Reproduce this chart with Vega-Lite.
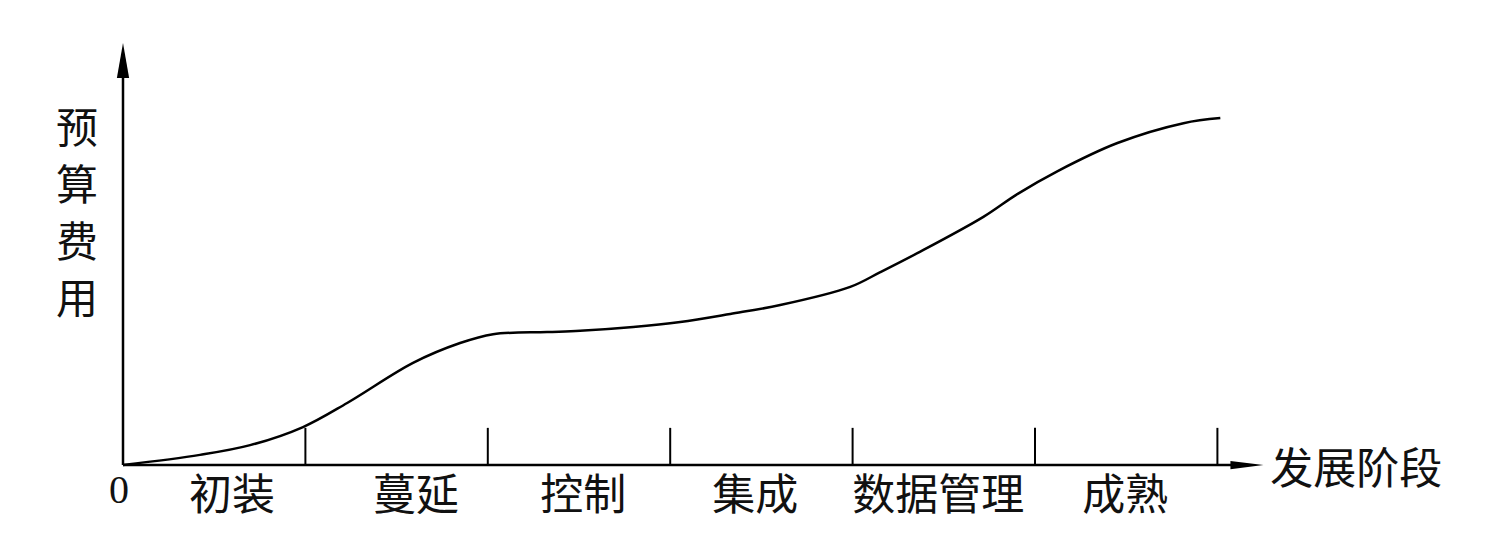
{
  "$schema": "https://vega.github.io/schema/vega-lite/v6.json",
  "width": 1140,
  "height": 422,
  "autosize": {"type": "none"},
  "padding": {"left": 123, "top": 43, "right": 233, "bottom": 81},
  "background": "white",
  "config": {"view": {"stroke": null}},
  "datasets": {
    "curve": [
      {"stage": 0, "cost": 0},
      {"stage": 0.422, "cost": 2.4},
      {"stage": 0.697, "cost": 4.7},
      {"stage": 0.987, "cost": 9.0},
      {"stage": 1.229, "cost": 14.7},
      {"stage": 1.59, "cost": 24.2},
      {"stage": 1.848, "cost": 28.9},
      {"stage": 2.029, "cost": 31.0},
      {"stage": 2.325, "cost": 31.5},
      {"stage": 2.506, "cost": 31.8},
      {"stage": 2.797, "cost": 32.7},
      {"stage": 3.055, "cost": 33.9},
      {"stage": 3.329, "cost": 35.8},
      {"stage": 3.603, "cost": 37.9},
      {"stage": 3.987, "cost": 42.2},
      {"stage": 4.152, "cost": 45.7},
      {"stage": 4.355, "cost": 50.2},
      {"stage": 4.717, "cost": 58.8},
      {"stage": 4.903, "cost": 64.2},
      {"stage": 5.122, "cost": 69.6},
      {"stage": 5.452, "cost": 76.3},
      {"stage": 5.814, "cost": 81.0},
      {"stage": 6.016, "cost": 82.2}
    ],
    "boundaries": [
      {"stage": 1}, {"stage": 2}, {"stage": 3}, {"stage": 4}, {"stage": 5}, {"stage": 6}
    ],
    "stages": [
      {"name": "初装", "stage": 0.598},
      {"name": "蔓延", "stage": 1.607},
      {"name": "控制", "stage": 2.523},
      {"name": "集成", "stage": 3.466},
      {"name": "数据管理", "stage": 4.47},
      {"name": "成熟", "stage": 5.495}
    ]
  },
  "layer": [
    {
      "data": {"values": [{"stage": 0, "stage2": 6.1, "cost": 0}]},
      "mark": {"type": "rule", "color": "black", "strokeWidth": 2.5},
      "encoding": {
        "x": {"field": "stage", "type": "quantitative", "scale": {"domain": [0, 6.25], "nice": false, "zero": false}, "axis": null},
        "x2": {"field": "stage2"},
        "y": {"field": "cost", "type": "quantitative", "scale": {"domain": [0, 100], "nice": false, "zero": false}, "axis": null}
      }
    },
    {
      "data": {"values": [{"stage": 0, "cost": 0, "cost2": 92}]},
      "mark": {"type": "rule", "color": "black", "strokeWidth": 2.5},
      "encoding": {
        "x": {"field": "stage", "type": "quantitative", "scale": {"domain": [0, 6.25], "nice": false, "zero": false}, "axis": null},
        "y": {"field": "cost", "type": "quantitative", "scale": {"domain": [0, 100], "nice": false, "zero": false}, "axis": null},
        "y2": {"field": "cost2"}
      }
    },
    {
      "data": {"values": [{"stage": 6.162, "cost": 0}]},
      "mark": {"type": "point", "shape": "M1,0L-1,-0.25L-1,0.25Z", "size": 1089, "filled": true, "color": "black", "opacity": 1, "clip": false},
      "encoding": {
        "x": {"field": "stage", "type": "quantitative", "scale": {"domain": [0, 6.25], "nice": false, "zero": false}, "axis": null},
        "y": {"field": "cost", "type": "quantitative", "scale": {"domain": [0, 100], "nice": false, "zero": false}, "axis": null}
      }
    },
    {
      "data": {"values": [{"stage": 0, "cost": 95.85}]},
      "mark": {"type": "point", "shape": "M0,-1L-0.35,1L0.35,1Z", "size": 1225, "filled": true, "color": "black", "opacity": 1, "clip": false},
      "encoding": {
        "x": {"field": "stage", "type": "quantitative", "scale": {"domain": [0, 6.25], "nice": false, "zero": false}, "axis": null},
        "y": {"field": "cost", "type": "quantitative", "scale": {"domain": [0, 100], "nice": false, "zero": false}, "axis": null}
      }
    },
    {
      "data": {"name": "boundaries"},
      "mark": {"type": "rule", "color": "black", "strokeWidth": 2},
      "encoding": {
        "x": {"field": "stage", "type": "quantitative", "scale": {"domain": [0, 6.25], "nice": false, "zero": false}, "axis": null},
        "y": {"datum": 0, "type": "quantitative", "scale": {"domain": [0, 100], "nice": false, "zero": false}, "axis": null},
        "y2": {"datum": 8.8}
      }
    },
    {
      "data": {"name": "curve"},
      "mark": {"type": "line", "color": "black", "strokeWidth": 2.5, "interpolate": "catmull-rom"},
      "encoding": {
        "x": {"field": "stage", "type": "quantitative", "scale": {"domain": [0, 6.25], "nice": false, "zero": false}, "axis": null},
        "y": {"field": "cost", "type": "quantitative", "scale": {"domain": [0, 100], "nice": false, "zero": false}, "axis": null}
      }
    },
    {
      "data": {"name": "stages"},
      "mark": {"type": "text", "font": "Noto Sans CJK SC", "fontSize": 43, "color": "#111", "baseline": "middle", "align": "center", "dy": 32, "clip": false},
      "encoding": {
        "x": {"field": "stage", "type": "quantitative", "scale": {"domain": [0, 6.25], "nice": false, "zero": false}, "axis": null},
        "y": {"datum": 0, "type": "quantitative", "scale": {"domain": [0, 100], "nice": false, "zero": false}, "axis": null},
        "text": {"field": "name"}
      }
    },
    {
      "data": {"values": [{"label": "0", "stage": 0}]},
      "mark": {"type": "text", "font": "Liberation Serif", "fontSize": 40, "color": "#111", "baseline": "middle", "align": "center", "dx": -4, "dy": 26, "clip": false},
      "encoding": {
        "x": {"field": "stage", "type": "quantitative", "scale": {"domain": [0, 6.25], "nice": false, "zero": false}, "axis": null},
        "y": {"datum": 0, "type": "quantitative", "scale": {"domain": [0, 100], "nice": false, "zero": false}, "axis": null},
        "text": {"field": "label"}
      }
    },
    {
      "data": {"values": [{"label": "发展阶段", "stage": 6.29}]},
      "mark": {"type": "text", "font": "Noto Sans CJK SC", "fontSize": 43, "color": "#111", "baseline": "middle", "align": "left", "dy": 6, "clip": false},
      "encoding": {
        "x": {"field": "stage", "type": "quantitative", "scale": {"domain": [0, 6.25], "nice": false, "zero": false}, "axis": null},
        "y": {"datum": 0, "type": "quantitative", "scale": {"domain": [0, 100], "nice": false, "zero": false}, "axis": null},
        "text": {"field": "label"}
      }
    },
    {
      "data": {"values": [{"label": "预\n算\n费\n用", "stage": -0.252, "cost": 79.4}]},
      "mark": {"type": "text", "font": "Noto Sans CJK SC", "fontSize": 42, "color": "#111", "baseline": "middle", "align": "center", "lineBreak": "\n", "lineHeight": 57, "clip": false},
      "encoding": {
        "x": {"field": "stage", "type": "quantitative", "scale": {"domain": [0, 6.25], "nice": false, "zero": false}, "axis": null},
        "y": {"field": "cost", "type": "quantitative", "scale": {"domain": [0, 100], "nice": false, "zero": false}, "axis": null},
        "text": {"field": "label"}
      }
    }
  ]
}
